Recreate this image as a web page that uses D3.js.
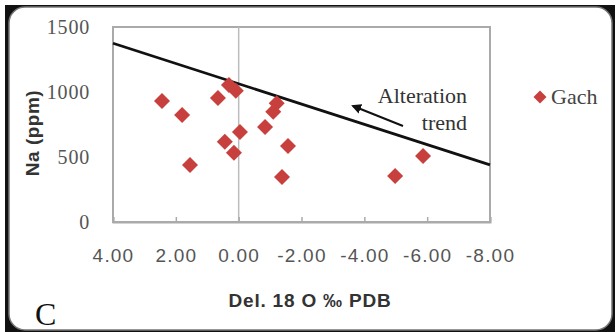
<!DOCTYPE html>
<html lang='en'>
<head>
  <meta charset='UTF-8'>
  <title>Na vs Del 18 O</title>
  <style>
    body { margin: 0; background: #fff; }
    .tick text { fill: #555; }
  </style>
</head>
<body>
<div id='chart'></div>
<script src='https://d3js.org/d3.v7.min.js'></script>
<script>
  // data
  var gachX = [2.44, 1.80, 1.55, 0.66, 0.31, 0.09, -0.04, 0.44, 0.15, -0.84, -1.21, -1.10, -1.57, -1.38, -5.87, -4.98]
  var gachY = [931, 823, 438, 954, 1054, 1010, 692, 618, 533, 731, 913, 848, 585, 346, 508, 354]
  var trendX = [4, -8]
  var trendY = [1375, 440]
  var xTicks = [4, 2, 0, -2, -4, -6, -8]
  var yTicks = [0, 500, 1000, 1500]

  var W = 616, H = 332
  // plot box (don't name it "top", that is window.top)
  var plot = {x0: 113, x1: 490, y0: 27, y1: 222}

  var svg = d3.select('#chart').append('svg')
    .attr('width', W).attr('height', H)

  // outer frame: dark corners + rounded white panel
  svg.append('rect').attr('x', 5).attr('y', 5).attr('width', 610).attr('height', 327).attr('fill', '#111')
  svg.append('rect').attr('x', 9).attr('y', 7).attr('width', 603).attr('height', 323)
    .attr('rx', 16).attr('fill', '#fff').attr('stroke', '#777').attr('stroke-width', 1.5)

  var x = d3.scaleLinear().domain([4, -8]).range([plot.x0, plot.x1])
  var y = d3.scaleLinear().domain([0, 1500]).range([plot.y1, plot.y0])

  // plot area border
  svg.append('rect').attr('x', plot.x0).attr('y', plot.y0)
    .attr('width', plot.x1 - plot.x0).attr('height', plot.y1 - plot.y0)
    .attr('fill', 'none').attr('stroke', '#aaa').attr('stroke-width', 2)

  // vertical axis crossing at 0
  svg.append('line').attr('x1', x(0)).attr('x2', x(0)).attr('y1', plot.y0).attr('y2', plot.y1)
    .attr('stroke', '#bbb').attr('stroke-width', 1.5)

  // x axis
  var xAxis = svg.append('g').attr('transform', 'translate(0,' + plot.y1 + ')')
    .call(d3.axisBottom(x).tickValues(xTicks).tickSize(-5).tickPadding(27)
      .tickFormat(function (d) { return d.toFixed(2) }))
  xAxis.select('.domain').attr('stroke', '#aaa').attr('stroke-width', 2)
  xAxis.selectAll('.tick line').attr('stroke', '#aaa').attr('stroke-width', 1.5)
  xAxis.selectAll('.tick text')
    .style('font-family', 'Liberation Sans, Arial, sans-serif')
    .style('font-size', '19px').style('letter-spacing', '1.2px')

  // y axis
  var yAxis = svg.append('g').attr('transform', 'translate(' + plot.x0 + ',0)')
    .call(d3.axisLeft(y).tickValues(yTicks).tickSize(0).tickPadding(23).tickFormat(d3.format('d')))
  yAxis.select('.domain').remove()
  yAxis.selectAll('.tick text')
    .style('font-family', 'Liberation Serif, Times New Roman, serif')
    .style('font-size', '20px').style('letter-spacing', '0.8px')

  // trend line
  var line = d3.line().x(function (d) { return x(d[0]) }).y(function (d) { return y(d[1]) })
  svg.append('path').datum(d3.zip(trendX, trendY))
    .attr('d', line).attr('fill', 'none').attr('stroke', '#111').attr('stroke-width', 2.8)

  // diamonds
  var diamond = 'M0,-8L8,0L0,8L-8,0Z'
  svg.append('g').selectAll('path').data(d3.zip(gachX, gachY)).enter().append('path')
    .attr('d', diamond)
    .attr('transform', function (d) { return 'translate(' + x(d[0]) + ',' + y(d[1]) + ')' })
    .attr('fill', '#c8403e')

  // arrow annotation
  svg.append('defs').append('marker').attr('id', 'arrow')
    .attr('viewBox', '0 0 10 10').attr('refX', 8).attr('refY', 5)
    .attr('markerWidth', 5).attr('markerHeight', 5).attr('orient', 'auto')
    .append('path').attr('d', 'M0,0L10,5L0,10Z').attr('fill', '#111')
  svg.append('line').attr('x1', 403).attr('y1', 126).attr('x2', 353).attr('y2', 106)
    .attr('stroke', '#111').attr('stroke-width', 2).attr('marker-end', 'url(#arrow)')

  var serif = 'Liberation Serif, Times New Roman, serif'
  svg.append('text').attr('x', 467).attr('y', 103).attr('text-anchor', 'end')
    .style('font-family', serif).style('font-size', '22px').attr('fill', '#333').text('Alteration')
  svg.append('text').attr('x', 467).attr('y', 130).attr('text-anchor', 'end')
    .style('font-family', serif).style('font-size', '22px').attr('fill', '#333').text('trend')

  // legend
  svg.append('path').attr('d', 'M0,-6.5L6.5,0L0,6.5L-6.5,0Z')
    .attr('transform', 'translate(540,97)').attr('fill', '#c8403e')
  svg.append('text').attr('x', 551).attr('y', 104)
    .style('font-family', serif).style('font-size', '22px').attr('fill', '#444').text('Gach')

  // axis titles
  svg.append('text').attr('x', 310).attr('y', 307).attr('text-anchor', 'middle')
    .style('font-family', 'Liberation Sans, Arial, sans-serif').style('font-weight', 'bold')
    .style('font-size', '19px').style('letter-spacing', '0.8px').attr('fill', '#333')
    .text('Del. 18 O ‰ PDB')
  svg.append('text').attr('transform', 'translate(39,133) rotate(-90)').attr('text-anchor', 'middle')
    .style('font-family', 'Liberation Sans, Arial, sans-serif').style('font-weight', 'bold')
    .style('font-size', '19px').style('letter-spacing', '0.5px').attr('fill', '#333').text('Na (ppm)')

  // panel letter
  svg.append('text').attr('x', 35).attr('y', 325)
    .style('font-family', serif).style('font-size', '32px').attr('fill', '#111').text('C')
</script>
</body>
</html>
